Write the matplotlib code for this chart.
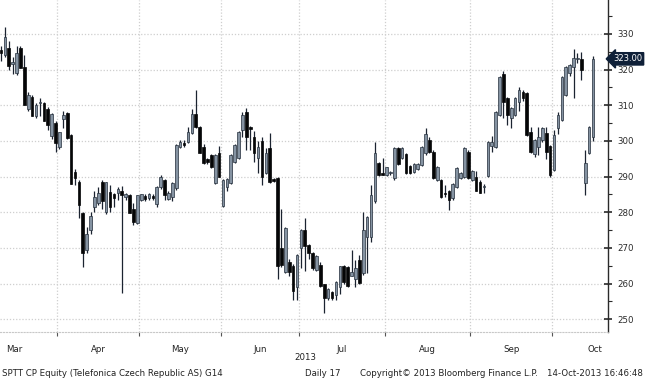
import matplotlib
matplotlib.use("Agg")
import matplotlib.pyplot as plt
import numpy as np

# daily OHLC, SPTT CP (Telefonica Czech Republic), Mar-Oct 2013
opens = [325.5, 324, 326, 321.5, 319, 326, 320.7, 309, 312.3, 307,
         310.5, 310.6, 309, 301.5, 305, 298.3, 306, 307.8, 301.7, 291.3,
         288.5, 279.7, 269.4, 275, 281.4, 282.6, 288.5, 280, 285.6, 285,
         285.4, 286, 284.3, 284.8, 281, 277, 283.5, 284.5, 284, 284.5,
         282.3, 287, 289, 283.8, 284.2, 286.8, 298.3, 299.5, 299.7, 302.2,
         307.5, 304, 298.3, 295, 296, 288.2, 296.6, 281.7, 287, 288.2,
         294, 295.2, 303, 308, 304, 301, 295.2, 300, 291, 298,
         289.3, 289.6, 270, 263.2, 266, 265, 259, 270, 275, 270.8,
         268.5, 263.8, 265.2, 259.8, 256, 257.6, 256.7, 259, 265, 264.6,
         262.2, 261.2, 266.6, 262.9, 273, 273, 283, 293.8, 291, 290.4,
         291, 289.6, 298, 295.2, 296.3, 293, 291.3, 292, 293.2, 296.5,
         300.2, 296.9, 289, 289, 285.5, 285.9, 284, 287, 289.6, 290,
         297, 289, 290, 288.5, 287, 290.1, 298.5, 298.3, 307.3, 318.8,
         312, 306.4, 307.3, 311, 313.8, 313.4, 302.5, 296.3, 298.3, 300.2,
         302.2, 298.6, 291.8, 303.6, 305.8, 312.9, 319, 320.7, 323, 323,
         288.2, 296.6, 301]
highs = [326.5, 332, 328, 323.5, 326.5, 326.5, 324, 313.7, 313, 310.6,
         312, 311, 309.5, 307.8, 305.5, 302.5, 308.5, 308, 302, 292,
         289, 280, 275.8, 280, 286, 287, 289, 288.5, 287.5, 285.5,
         287, 287.3, 285.5, 285, 282.5, 284.8, 285.2, 285, 285.5, 285.2,
         287.3, 290.3, 289.3, 286, 288.4, 299, 300.3, 300.2, 304, 309,
         314.3, 304.3, 299, 295.3, 296.3, 296.3, 298.6, 289.3, 289.6, 296.3,
         299, 302.7, 308, 309.2, 304.3, 302.8, 300, 301, 298, 302.2,
         289.6, 290, 281, 275.8, 267, 265.5, 268.3, 275.3, 278.4, 271,
         268.7, 268, 266, 260, 258.7, 258, 260.6, 265, 265.3, 265,
         269.4, 266.5, 268, 280, 279, 287.5, 299.7, 294.2, 295.3, 292.8,
         291.5, 298.3, 298.3, 298.3, 296.6, 293.2, 293.7, 293.7, 298.5, 303.6,
         301, 297.3, 292.9, 289.3, 287.6, 286.2, 288.2, 292.7, 291.3, 298.3,
         297.5, 291.8, 291.5, 289, 288, 300, 301.5, 308.3, 318.3, 319.5,
         312.3, 309.5, 312.3, 315, 314.2, 313.7, 304, 300.4, 304, 304,
         304, 298.8, 303, 308, 318.3, 321, 321.5, 325.8, 324.5, 325,
         297.4, 304.3, 323.7]
lows = [322.5, 323.5, 320, 318.7, 318.5, 320.5, 310, 308.5, 307, 306.5,
        307, 305.5, 303, 300.5, 297, 297.8, 303.5, 300.5, 288, 287.6,
        278.4, 264.5, 268.5, 274, 280, 282, 281, 279.5, 280, 281.4,
        283.3, 257.3, 283.3, 279.8, 276.5, 276.8, 283, 283, 283.5, 283.3,
        281.5, 286.5, 283.5, 283.3, 283, 286.3, 298, 298.3, 299.5, 302,
        303.5, 296.6, 293.5, 293.6, 292.5, 288, 290, 281.5, 286, 288,
        293.7, 295, 301, 297.4, 297.4, 294, 291, 287.5, 290.8, 288.2,
        288.5, 261.2, 264.5, 263, 262, 255.3, 255.5, 264.3, 263.5, 266.8,
        263.8, 263.5, 259, 251.7, 255.5, 255.5, 255.5, 257, 260, 259,
        262, 259, 260, 262.5, 262.9, 271.6, 282.5, 290.2, 290.4, 290.2,
        290.3, 289, 293.3, 295, 290.8, 290.8, 291, 291.7, 293, 296,
        296.6, 289.3, 288.8, 284, 284.2, 280.6, 283.5, 286.8, 289.3, 289.5,
        289.3, 288.8, 285.8, 285.3, 285.5, 290, 296.8, 298, 307, 306.4,
        304.5, 303.6, 307, 308.5, 311.3, 301.5, 296.6, 295.5, 296, 299.8,
        295, 290, 291.5, 302, 305.5, 312.5, 318.3, 312, 321.8, 317,
        284.8, 296.3, 300]
closes = [324.5, 329, 321, 322, 324.7, 320.5, 310, 313, 307, 310,
          311, 305.5, 304.5, 307.5, 299.4, 302.5, 307.3, 300.8, 288, 289.6,
          282, 268.5, 274, 279, 284.2, 285.4, 283, 288.5, 281.4, 284,
          286.5, 284.8, 285, 279.8, 277.2, 284.8, 285, 283.7, 285.2, 284,
          287, 290, 284.8, 285.5, 288.2, 298.8, 299.7, 298.8, 302.5, 307.5,
          303.8, 296.6, 293.8, 294, 292.7, 296, 290, 289, 289.4, 296,
          298.8, 302.5, 307.3, 301, 303.3, 296.6, 298.3, 290, 296.6, 288.5,
          288.8, 265, 265.2, 275.5, 263.2, 258, 268, 275, 270.5, 268.5,
          264.3, 267.7, 259.3, 256, 258.4, 256, 260.4, 264.9, 260.5, 259.3,
          263.2, 264.3, 260.1, 275, 278.6, 284.8, 296.6, 290.4, 290.5, 292.6,
          291.1, 298, 293.5, 298, 291, 291, 293.5, 293.5, 298.3, 302,
          296.9, 289.6, 292.7, 284.2, 285, 283.4, 287.9, 292.4, 291, 298,
          289.6, 291.5, 286, 285.4, 287.1, 299.7, 299.6, 308, 318, 311,
          307.3, 309.2, 312, 314.3, 312, 301.7, 297, 300.2, 301, 303.6,
          296.9, 290.4, 301.7, 307.3, 318, 320.7, 321.3, 323.3, 323.2, 320,
          293.8, 304, 323]

# month boundaries (trading-day index) and label positions
month_bounds = [14.5, 35.5, 56.5, 76.5, 98.5, 120.5, 141.5]
month_label_pos = [3.5, 25, 46, 66.5, 87.5, 109.5, 131, 152.5]
month_labels = ["Mar", "Apr", "May", "Jun", "Jul", "Aug", "Sep", "Oct"]
y_ticks = [250, 260, 270, 280, 290, 300, 310, 320, 330]
last_price = 323.00

o = np.array(opens)
h = np.array(highs)
l = np.array(lows)
c = np.array(closes)
x = np.arange(len(o))
up = c >= o

fig = plt.figure(figsize=(6.45, 3.8), dpi=100)
ax = fig.add_axes([0, 1 - 332 / 380, 608 / 645, 332 / 380])

ink = "#1b2330"
ax.vlines(x, l, h, color=ink, linewidth=0.9, zorder=2)
body_bot = np.minimum(o, c)
body_h = np.maximum(np.abs(c - o), 0.35)
ax.bar(x[up], body_h[up], bottom=body_bot[up], width=0.68,
       color="#8593a2", edgecolor="#25303d", linewidth=0.5, zorder=3)
ax.bar(x[~up], body_h[~up], bottom=body_bot[~up], width=0.68,
       color="#050607", edgecolor="#050607", linewidth=0.5, zorder=3)

ax.set_xlim(-0.26, 155.85)
ax.set_ylim(246.4, 339.5)

# axes styling
for side in ["top", "left"]:
    ax.spines[side].set_visible(False)
ax.spines["bottom"].set_color("#c8c8c8")
ax.spines["bottom"].set_linestyle(":")
ax.spines["right"].set_color("#2a2a2a")
ax.spines["right"].set_linewidth(1.0)

ax.yaxis.tick_right()
ax.set_yticks(y_ticks)
ax.set_yticks([255, 265, 275, 285, 295, 305, 315, 325, 335], minor=True)
ax.tick_params(axis="y", which="major", direction="inout", length=6, width=1.2,
               colors="#2a2a2a", labelsize=6.2, pad=4)
ax.tick_params(axis="y", which="minor", direction="out", length=3, width=0.8,
               colors="#2a2a2a")

ax.set_xticks(month_bounds)
ax.set_xticklabels([])
ax.set_xticks(month_label_pos, minor=True)
ax.set_xticklabels(month_labels, minor=True)
ax.tick_params(axis="x", which="major", direction="out", length=3, width=0.8,
               colors="#555555")
ax.tick_params(axis="x", which="minor", length=0, labelsize=6.2, pad=9,
               labelcolor="#222222")

ax.grid(True, which="major", color="#cfcfcf", linestyle=(0, (1, 1.5)), linewidth=0.9)
ax.set_axisbelow(True)

# last price tag
ax.annotate(f"{last_price:.2f}", xy=(1, last_price), xycoords=("axes fraction", "data"),
            xytext=(3.5, 0), textcoords="offset points", va="center", ha="left",
            fontsize=6.0, color="white",
            bbox=dict(boxstyle="larrow,pad=0.2", fc="#0f2038", ec="#0f2038"))

fig.text(305 / 645, 1 - 358 / 380, "2013", ha="center", va="center", fontsize=6.2, color="#222222")
fy = 1 - 373 / 380
fig.text(2 / 645, fy, "SPTT CP Equity (Telefonica Czech Republic AS) G14", ha="left", va="center",
         fontsize=6.2, color="#222222")
fig.text(305 / 645, fy, "Daily 17", ha="left", va="center", fontsize=6.2, color="#222222")
fig.text(360 / 645, fy, "Copyright\u00a9 2013 Bloomberg Finance L.P.", ha="left", va="center",
         fontsize=6.2, color="#222222")
fig.text(643 / 645, fy, "14-Oct-2013 16:46:48", ha="right", va="center", fontsize=6.2, color="#222222")

fig.savefig("out.png", dpi=100)
